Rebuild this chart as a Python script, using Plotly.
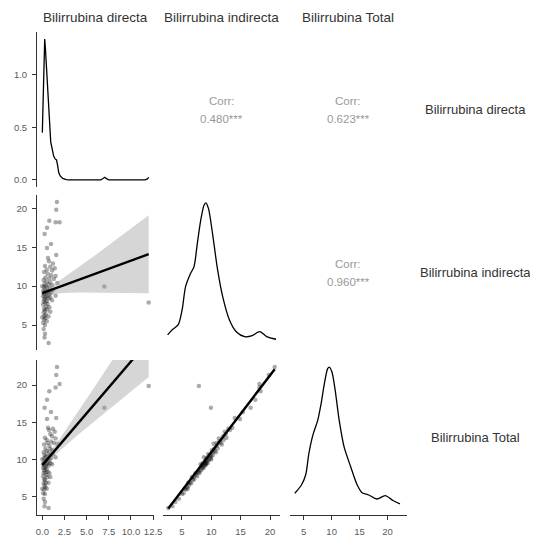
import plotly.graph_objects as go

# ---------------- data ----------------
var_names = ["Bilirrubina directa", "Bilirrubina indirecta", "Bilirrubina Total"]

directa = [1.65, 1.57, 0.79, 1.50, 1.95, 0.53, 0.26, 0.98, 0.53, 1.57,
           0.64, 0.75, 1.20, 0.30, 0.90, 1.40, 0.50, 1.10, 0.20, 0.60,
           1.00, 1.50, 0.35, 0.80, 1.30, 0.15, 0.50, 0.90, 1.70, 0.25,
           0.70, 1.10, 0.40, 0.00, 0.20, 0.55, 0.85, 0.30, 1.20, 0.10,
           0.45, 0.70, 0.25, 1.00, 0.15, 0.50, 0.35, 0.80, 0.20, 0.60,
           1.50, 0.10, 0.40, 0.90, 0.30, 0.70, 0.20, 1.10, 0.50, 0.15,
           0.35, 0.60, 0.10, 0.45, 0.80, 0.20, 0.55, 0.30, 0.90, 0.15,
           0.40, 0.25, 0.70, 0.00, 0.35, 0.20, 0.50, 0.10, 0.30, 0.15,
           0.30, 0.25, 0.71, 7.00, 12.00]
indirecta = [20.8, 19.8, 18.4, 18.2, 18.2, 17.5, 16.7, 15.4, 14.9, 14.0,
             13.6, 13.2, 12.9, 12.6, 12.5, 12.3, 12.1, 12.0, 11.8, 11.6,
             11.4, 11.3, 11.1, 11.0, 10.9, 10.8, 10.6, 10.5, 10.4, 10.3,
             10.2, 10.1, 10.0, 10.0, 9.9, 9.8, 9.7, 9.6, 9.5, 9.4,
             9.35, 9.3, 9.2, 9.15, 9.1, 9.05, 9.0, 8.95, 8.9, 8.8,
             8.75, 8.7, 8.6, 8.55, 8.5, 8.4, 8.3, 8.2, 8.1, 8.0,
             7.9, 7.7, 7.6, 7.4, 7.3, 7.1, 7.0, 6.9, 6.7, 6.6,
             6.4, 6.2, 6.1, 6.0, 5.9, 5.7, 5.5, 5.3, 5.0, 4.5,
             3.9, 3.4, 2.7, 9.95, 7.90]
total = [22.45, 21.37, 19.19, 19.70, 20.15, 18.03, 16.96, 16.38, 15.43, 15.57,
         14.24, 13.95, 14.10, 12.90, 13.40, 13.70, 12.60, 13.10, 12.00, 12.20,
         12.40, 12.80, 11.45, 11.80, 12.20, 10.95, 11.10, 11.40, 12.10, 10.55,
         10.90, 11.20, 10.40, 10.00, 10.10, 10.35, 10.55, 9.90, 10.70, 9.50,
         9.80, 10.00, 9.45, 10.15, 9.25, 9.55, 9.35, 9.75, 9.10, 9.40,
         10.25, 8.80, 9.00, 9.45, 8.80, 9.10, 8.50, 9.30, 8.60, 8.15,
         8.25, 8.30, 7.70, 7.85, 8.10, 7.30, 7.55, 7.20, 7.60, 6.75,
         6.80, 6.45, 6.80, 6.00, 6.25, 5.90, 6.00, 5.40, 5.30, 4.65,
         4.20, 3.65, 3.41, 16.95, 19.90]

# density curves
dens_dir_x = [0.0, 0.1, 0.2, 0.27, 0.35, 0.45, 0.55, 0.68, 0.82, 0.95, 1.1, 1.27, 1.45,
              1.6, 1.72, 1.85, 2.0, 2.3, 2.7, 3.0, 6.6, 6.85, 7.05, 7.25, 7.5, 11.6, 11.85, 12.0]
dens_dir_y = [0.45, 0.9, 1.25, 1.34, 1.25, 1.1, 0.92, 0.65, 0.45, 0.36, 0.3, 0.23, 0.2,
              0.19, 0.14, 0.07, 0.04, 0.015, 0.004, 0.0, 0.0, 0.012, 0.025, 0.012, 0.0, 0.0, 0.01, 0.025]

dens_ind_x = [2.59, 3.33, 4.36, 5.05, 5.64, 6.5, 7.07, 7.64, 8.22, 8.79, 9.09, 9.53, 10.22,
              11.09, 11.95, 13.1, 14.26, 15.69, 16.84, 18.28, 19.43, 21.03]
dens_ind_y = [0.0108, 0.0175, 0.0243, 0.0445, 0.0759, 0.0939, 0.1028, 0.1343, 0.1657, 0.186,
              0.189, 0.1815, 0.1478, 0.0984, 0.0624, 0.031, 0.0152, 0.0085, 0.0094, 0.0152,
              0.0085, 0.005]

dens_tot_x = [3.41, 4.59, 5.35, 5.93, 6.64, 7.52, 8.12, 8.70, 9.29, 9.59, 10.06, 10.64, 11.35,
              12.23, 13.41, 14.58, 15.46, 16.64, 18.10, 19.59, 21.05, 22.23]
dens_tot_y = [0.0182, 0.0285, 0.0409, 0.0677, 0.0904, 0.109, 0.1297, 0.1544, 0.173, 0.175,
              0.1688, 0.1461, 0.109, 0.0759, 0.0512, 0.0285, 0.0189, 0.0161, 0.0111, 0.0152,
              0.009, 0.005]

# linear fits with 95% bands
fit_d_x = [0.0, 1.0, 2.0, 4.0, 6.0, 8.0, 10.0, 12.0]
fit_di_y = [9.1, 9.52, 9.93, 10.77, 11.6, 12.43, 13.27, 14.1]
fit_di_up = [9.79, 10.14, 10.77, 12.35, 14.01, 15.70, 17.40, 19.10]
fit_di_lo = [8.41, 8.90, 9.09, 9.19, 9.19, 9.16, 9.14, 9.10]

fit_dt_y = [9.2, 10.6, 12.0, 14.8, 17.6, 20.4, 23.2, 26.0]
fit_dt_up = [9.87, 11.20, 12.82, 16.34, 19.95, 23.59, 27.23, 30.88]
fit_dt_lo = [8.53, 10.00, 11.18, 13.26, 15.25, 17.21, 19.17, 21.12]

fit_i_x = [2.7, 6.0, 10.0, 14.0, 18.0, 20.8]
fit_it_y = [3.34, 6.77, 10.93, 15.09, 19.25, 22.16]
fit_it_up = [3.59, 6.92, 11.03, 15.24, 19.50, 22.46]
fit_it_lo = [3.09, 6.62, 10.83, 14.94, 19.00, 21.86]

corr_labels = {(1, 2): "0.480***", (1, 3): "0.623***", (2, 3): "0.960***"}

x_ticks = {1: [0, 2.5, 5, 7.5, 10, 12.5], 2: [5, 10, 15, 20], 3: [5, 10, 15, 20]}
x_ticktext = {1: ["0.0", "2.5", "5.0", "7.5", "10.0", "12.5"], 2: ["5", "10", "15", "20"], 3: ["5", "10", "15", "20"]}
y_ticks = {1: [0, 0.5, 1.0], 2: [5, 10, 15, 20], 3: [5, 10, 15, 20]}
y_ticktext = {1: ["0.0", "0.5", "1.0"], 2: ["5", "10", "15", "20"], 3: ["5", "10", "15", "20"]}

# ---------------- layout geometry ----------------
# positions below are page pixels; the page body adds an 8px offset
OFF = 8
W, H = 538 - OFF, 539 - OFF
col_px = [(37, 154), (163, 280), (289.5, 406.5)]
row_px = [(32, 187), (195, 350), (360, 515)]
x_ranges = {1: [-0.6, 12.6], 2: [1.8, 21.7], 3: [2.46, 23.4]}
row_y_ranges = {2: [1.8, 21.7], 3: [2.46, 23.4]}
diag_y_ranges = {1: [-0.067, 1.407], 2: [-0.0095, 0.1995], 3: [-0.00875, 0.18375]}

FONT = "Liberation Sans, Arial, sans-serif"
TICK_COL = "#5a5a5a"
AX_COL = "#333333"
PT_COL = "rgba(0,0,0,0.33)"
BAND_COL = "rgba(153,153,153,0.4)"
STRIP_COL = "#333333"
CORR_COL = "#999999"


def px_x(p):
    return (p - OFF) / W


def px_y(p):
    return 1 - (p - OFF) / H


def xd(c):
    a, b = col_px[c - 1]
    return [px_x(a), px_x(b)]


def yd(r):
    a, b = row_px[r - 1]
    return [px_y(b), px_y(a)]


def k_of(r, c):
    return (r - 1) * 3 + c


def xref(k):
    return "x" if k == 1 else f"x{k}"


def yref(k):
    return "y" if k == 1 else f"y{k}"


fig = go.Figure()


def add_density(r, xs, ys, shape="spline"):
    k = k_of(r, r)
    fig.add_trace(go.Scatter(x=xs, y=ys, mode="lines", xaxis=xref(k), yaxis=yref(k),
                             line=dict(color="black", width=1.3, shape=shape, smoothing=0.8),
                             hoverinfo="skip"))


def add_scatter(r, c, xs, ys, fx, fy, up, lo):
    k = k_of(r, c)
    fig.add_trace(go.Scatter(x=xs, y=ys, mode="markers", xaxis=xref(k), yaxis=yref(k),
                             marker=dict(color=PT_COL, size=4.5, line=dict(width=0))))
    fig.add_trace(go.Scatter(x=fx + fx[::-1], y=up + lo[::-1], mode="lines", fill="toself",
                             fillcolor=BAND_COL, line=dict(width=0), xaxis=xref(k), yaxis=yref(k),
                             hoverinfo="skip"))
    fig.add_trace(go.Scatter(x=fx, y=fy, mode="lines", xaxis=xref(k), yaxis=yref(k),
                             line=dict(color="black", width=2.4), hoverinfo="skip"))


add_density(1, dens_dir_x, dens_dir_y, shape="linear")
add_density(2, dens_ind_x, dens_ind_y)
add_density(3, dens_tot_x, dens_tot_y)
add_scatter(2, 1, directa, indirecta, fit_d_x, fit_di_y, fit_di_up, fit_di_lo)
add_scatter(3, 1, directa, total, fit_d_x, fit_dt_y, fit_dt_up, fit_dt_lo)
add_scatter(3, 2, indirecta, total, fit_i_x, fit_it_y, fit_it_up, fit_it_lo)

layout = {}
for (r, c) in [(1, 1), (2, 1), (2, 2), (3, 1), (3, 2), (3, 3)]:
    k = k_of(r, c)
    xname = "xaxis" if k == 1 else f"xaxis{k}"
    yname = "yaxis" if k == 1 else f"yaxis{k}"
    bottom = (r == 3)
    left = (c == 1)
    xa = dict(domain=xd(c), range=x_ranges[c], anchor=yref(k), showgrid=False, zeroline=False,
              showline=bottom, linecolor=AX_COL, linewidth=1, fixedrange=True, automargin=False)
    if bottom:
        xa.update(tickmode="array", tickvals=x_ticks[c], ticktext=x_ticktext[c], ticks="outside",
                  ticklen=4, tickcolor=AX_COL, tickwidth=1, tickangle=0, ticklabelstandoff=4,
                  tickfont=dict(family=FONT, size=9.5, color=TICK_COL))
    else:
        xa.update(showticklabels=False, ticks="")
    yr = diag_y_ranges[r] if r == c else row_y_ranges[r]
    ya = dict(domain=yd(r), range=yr, anchor=xref(k), showgrid=False, zeroline=False,
              showline=left, linecolor=AX_COL, linewidth=1, fixedrange=True, automargin=False)
    if left:
        ya.update(tickmode="array", tickvals=y_ticks[r], ticktext=y_ticktext[r], ticks="outside",
                  ticklen=4, tickcolor=AX_COL, tickwidth=1, ticklabelstandoff=3,
                  tickfont=dict(family=FONT, size=9.5, color=TICK_COL))
    else:
        ya.update(showticklabels=False, ticks="")
    layout[xname] = xa
    layout[yname] = ya

annotations = []
for i, name in enumerate(var_names):
    cx = px_x((col_px[i][0] + col_px[i][1]) / 2)
    annotations.append(dict(x=cx, y=px_y(18), xref="paper", yref="paper", text=name,
                            showarrow=False, xanchor="center", yanchor="middle",
                            font=dict(family=FONT, size=13.5, color=STRIP_COL)))
    cy = px_y((row_px[i][0] + row_px[i][1]) / 2)
    annotations.append(dict(x=px_x(475.5), y=cy, xref="paper", yref="paper", text=name,
                            showarrow=False, xanchor="center", yanchor="middle",
                            font=dict(family=FONT, size=13, color=STRIP_COL)))

for (r, c), val in corr_labels.items():
    cx = px_x((col_px[c - 1][0] + col_px[c - 1][1]) / 2)
    cyp = (row_px[r - 1][0] + row_px[r - 1][1]) / 2
    annotations.append(dict(x=cx, y=px_y(cyp - 9), xref="paper", yref="paper", text="Corr:",
                            showarrow=False, xanchor="center", yanchor="middle",
                            font=dict(family=FONT, size=11.5, color=CORR_COL)))
    annotations.append(dict(x=cx, y=px_y(cyp + 9), xref="paper", yref="paper", text=val,
                            showarrow=False, xanchor="center", yanchor="middle",
                            font=dict(family=FONT, size=11.5, color=CORR_COL)))

fig.update_layout(width=W, height=H, margin=dict(l=0, r=0, t=0, b=0), autosize=False,
                  paper_bgcolor="white", plot_bgcolor="white", showlegend=False,
                  font=dict(family=FONT), annotations=annotations, **layout)

fig.write_html("out.html")
